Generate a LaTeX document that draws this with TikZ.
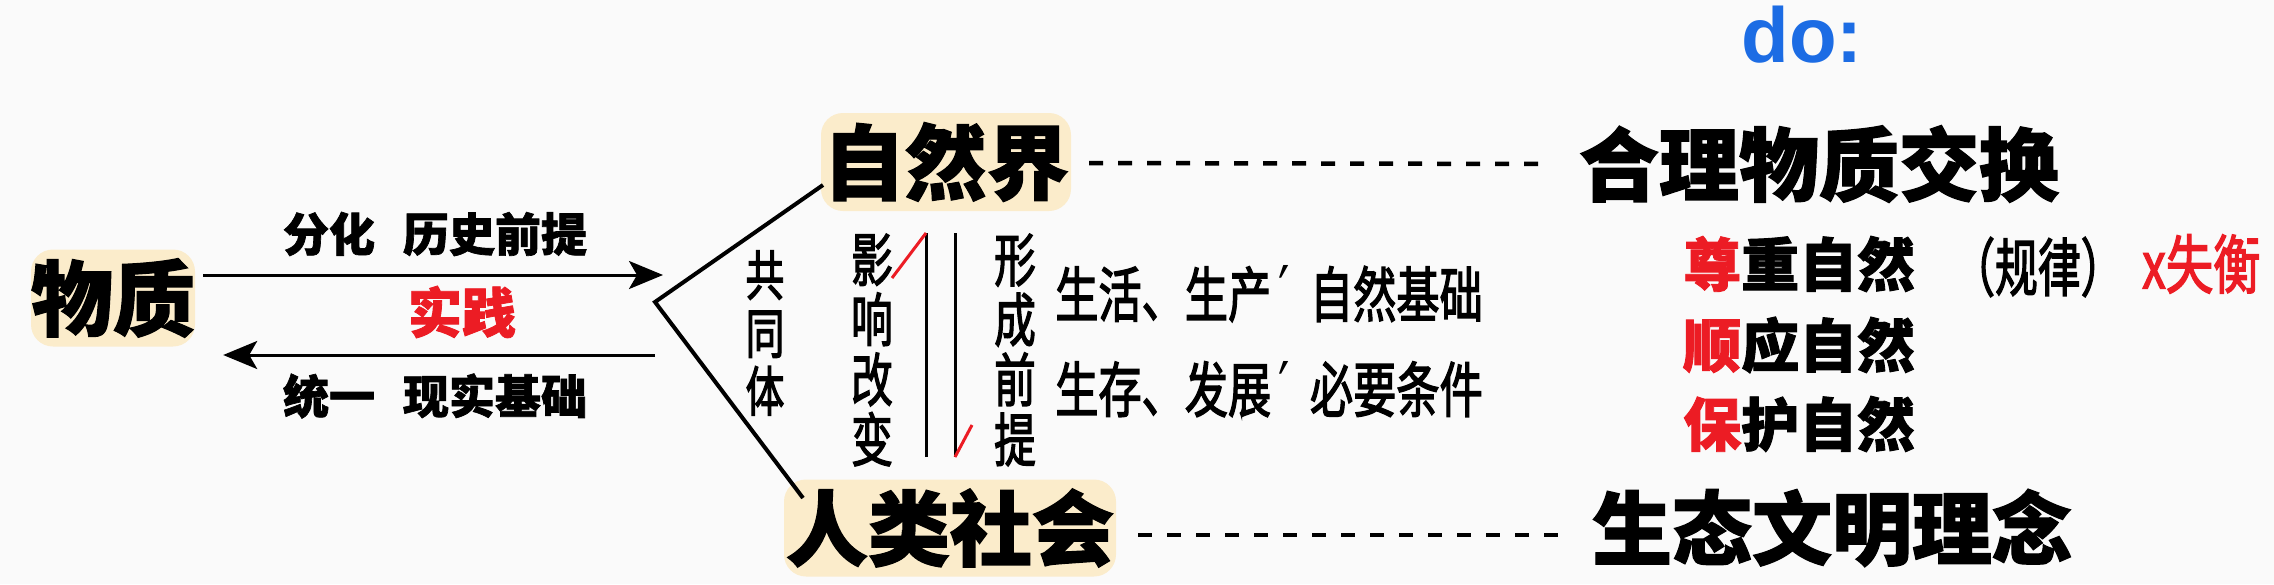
\documentclass[tikz,border=0pt]{standalone}
\usepackage{fontspec}
\usepackage{graphicx}
\setmainfont{Noto Sans CJK SC}[BoldFeatures={FakeBold=1.5}]
\newfontfamily\med{Noto Sans CJK SC}[FakeBold=2.5]
\newfontfamily\lat{Liberation Sans}
\newfontfamily\dv{DejaVu Sans}
\usetikzlibrary{arrows.meta,calc}
\definecolor{hl}{RGB}{251,236,203}
\definecolor{myred}{RGB}{236,28,36}
\definecolor{myblue}{RGB}{28,108,228}
\definecolor{bg}{RGB}{250,250,250}
\newcommand\cond[1]{\scalebox{0.72}[1]{#1}}
\newcommand\fsz[2]{\fontsize{#1}{#2}\selectfont}
\newcommand\pr{\hspace{10pt}{\dv\fontsize{70}{70}\selectfont ′}\hspace{28pt}}
\begin{document}
\begin{tikzpicture}[x=1pt,y=-1pt,
  hlbox/.style={fill=hl, rounded corners=22pt, inner sep=0pt, font=\bfseries\fsz{82}{90}},
  txt/.style={inner sep=0pt},
  arr/.style={line width=3pt, -{Stealth[length=34pt,width=28pt,inset=8pt]}},
  vline/.style={line width=4pt},
  thinline/.style={line width=3pt},
  redtick/.style={line width=3pt, myred},
  dashl/.style={line width=4.5pt, dash pattern=on 14pt off 15pt},
  vert/.style={inner sep=0pt, align=center}]
\fill[bg] (0,0) rectangle (2274,584);
\useasboundingbox (0,0) rectangle (2274,584);

% highlighted nodes
\node[hlbox, minimum width=163pt, minimum height=97pt] (wz) at (113,298) {物质};
\node[hlbox, minimum width=250pt, minimum height=98pt] (zr) at (946,162) {自然界};
\node[hlbox, minimum width=332pt, minimum height=97pt] (rl) at (950,528) {人类社会};

% right side
\node[txt, font=\bfseries\fsz{80}{88}] (hlwj) at (1819,164) {合理物质交换};
\node[txt, font=\bfseries\fsz{80}{88}] (stwm) at (1832,528) {生态文明理念};
\node[txt, anchor=base, font=\lat\bfseries\fsz{78}{86}, text=myblue] (do) at (1802,62) {do:};

\node[txt, anchor=west, font=\bfseries\fsz{58}{62}] (zz) at (1683,264) {\textcolor{myred}{尊}重自然};
\node[txt, anchor=west, font=\med\fsz{63}{66}] (gl) at (1952,267) {\scalebox{0.68}[1]{（规律）}};
\node[txt, anchor=west, font=\med\fsz{64}{66}, text=myred] (sh) at (2142,264) {\scalebox{0.74}[1]{x失衡}};
\node[txt, anchor=west, font=\bfseries\fsz{58}{62}] (sy) at (1683,345) {\textcolor{myred}{顺}应自然};
\node[txt, anchor=west, font=\bfseries\fsz{58}{62}] (bh) at (1683,424) {\textcolor{myred}{保}护自然};

% arrows and labels
\coordinate (v) at (655,302);
\coordinate (a1s) at ($(wz.east)+(8,-23)$);
\coordinate (a1e) at (663,275);
\coordinate (a2s) at (655,355);
\coordinate (a2e) at ($(wz.east)+(28,57)$);
\draw[arr] (a1s) -- (a1e);
\draw[arr] (a2s) -- (a2e);
\node[txt, font=\bfseries\fsz{46}{50}] (fh) at (435,234) {分化\hspace{28pt}历史前提};
\node[txt, font=\bfseries\fsz{46}{50}] (ty) at (435,396) {统一\hspace{28pt}现实基础};
\node[txt, font=\bfseries\fsz{54}{58}, text=myred] (sj) at (462,312) {实践};

% V shape
\coordinate (vz) at (823,185);
\coordinate (vr) at (803,498);
\draw[vline] (vz) -- (v) -- (vr);

% vertical texts
\node[vert, font=\med\fsz{54}{58}] (gtt) at (765,333) {\cond{共}\\\cond{同}\\\cond{体}};
\node[vert, font=\med\fsz{58}{60}] (yx) at (872,350) {\cond{影}\\\cond{响}\\\cond{改}\\\cond{变}};
\node[vert, font=\med\fsz{58}{60}] (xc) at (1015,350) {\cond{形}\\\cond{成}\\\cond{前}\\\cond{提}};

% two vertical lines with red ticks
\coordinate (l1t) at (926,233); \coordinate (l1b) at (926,457);
\coordinate (l2t) at (955,233); \coordinate (l2b) at (955,457);
\coordinate (t1) at (892,278); \coordinate (t2) at (972,425);
\draw[thinline] (l1b) -- (l1t);
\draw[thinline] (l2t) -- (l2b);
\draw[redtick] (t1) -- (l1t);
\draw[redtick] (l2b) -- (t2);

% condition lines
\node[txt, anchor=west, font=\med\fsz{60}{64}] (shsc) at (1055,294) {\cond{生活、生产\pr 自然基础}};
\node[txt, anchor=west, font=\med\fsz{60}{64}] (scfz) at (1055,389) {\cond{生存、发展\pr 必要条件}};

% dashed connectors
\draw[dashl] ($(zr.east)+(18,1)$) -- ($(hlwj.west)+(-34,0)$);
\draw[dashl] ($(rl.east)+(22,7)$) -- ($(stwm.west)+(-26,7)$);
\end{tikzpicture}
\end{document}
